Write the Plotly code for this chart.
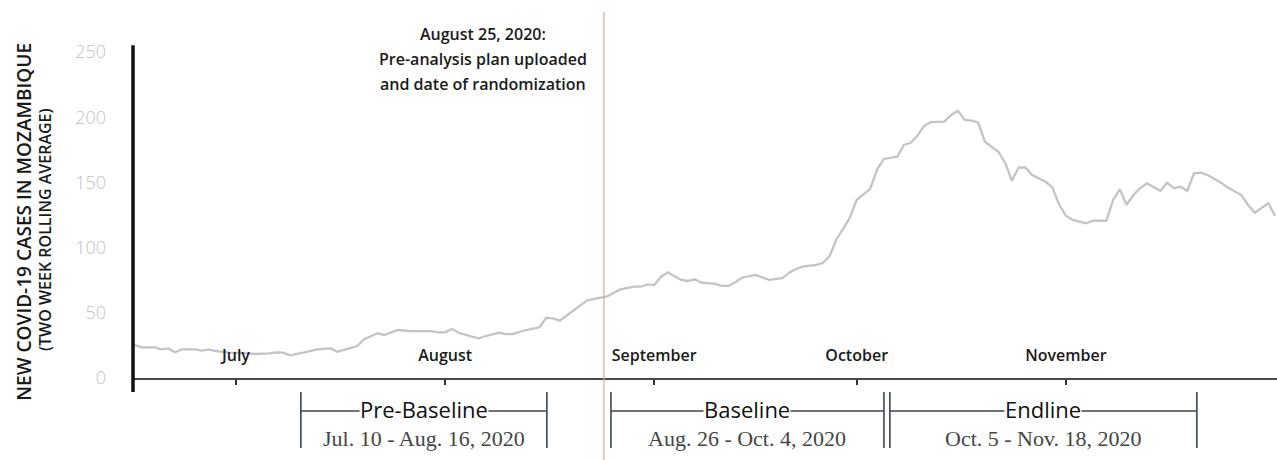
import plotly.graph_objects as go
import pandas as pd

# ---- data ----
dates = [
    "2020-06-16", "2020-06-17", "2020-06-19", "2020-06-20", "2020-06-21", "2020-06-22",
    "2020-06-23", "2020-06-25", "2020-06-26", "2020-06-27", "2020-06-28", "2020-06-30",
    "2020-07-02", "2020-07-04", "2020-07-06", "2020-07-07", "2020-07-08", "2020-07-09",
    "2020-07-11", "2020-07-12", "2020-07-13", "2020-07-15", "2020-07-16", "2020-07-17",
    "2020-07-19", "2020-07-20", "2020-07-22", "2020-07-23", "2020-07-25", "2020-07-27",
    "2020-07-30", "2020-07-31", "2020-08-01", "2020-08-02", "2020-08-03", "2020-08-05",
    "2020-08-06", "2020-08-07", "2020-08-09", "2020-08-10", "2020-08-11", "2020-08-13",
    "2020-08-15", "2020-08-16", "2020-08-17", "2020-08-18", "2020-08-20", "2020-08-21",
    "2020-08-22", "2020-08-23", "2020-08-25", "2020-08-26", "2020-08-27", "2020-08-29",
    "2020-08-30", "2020-08-31", "2020-09-01", "2020-09-02", "2020-09-03", "2020-09-05",
    "2020-09-06", "2020-09-07", "2020-09-08", "2020-09-10", "2020-09-11", "2020-09-12",
    "2020-09-13", "2020-09-14", "2020-09-16", "2020-09-17", "2020-09-18", "2020-09-20",
    "2020-09-21", "2020-09-22", "2020-09-23", "2020-09-25", "2020-09-26", "2020-09-27",
    "2020-09-28", "2020-09-29", "2020-09-30", "2020-10-01", "2020-10-02", "2020-10-03",
    "2020-10-04", "2020-10-05", "2020-10-07", "2020-10-08", "2020-10-09", "2020-10-10",
    "2020-10-11", "2020-10-12", "2020-10-14", "2020-10-15", "2020-10-16", "2020-10-17",
    "2020-10-18", "2020-10-19", "2020-10-20", "2020-10-22", "2020-10-23", "2020-10-24",
    "2020-10-25", "2020-10-26", "2020-10-27", "2020-10-28", "2020-10-29", "2020-10-30",
    "2020-10-31", "2020-11-01", "2020-11-02", "2020-11-03", "2020-11-04", "2020-11-05",
    "2020-11-07", "2020-11-08", "2020-11-09", "2020-11-10", "2020-11-11", "2020-11-12",
    "2020-11-13", "2020-11-15", "2020-11-16", "2020-11-17", "2020-11-18", "2020-11-19",
    "2020-11-20", "2020-11-21", "2020-11-22", "2020-11-24", "2020-11-25", "2020-11-27",
    "2020-11-28", "2020-11-29", "2020-12-01", "2020-12-02",
]
cases = [
    25.3, 23.5, 23.5, 22.0, 22.7, 19.7,
    22.0, 22.0, 21.0, 22.0, 20.7, 19.4,
    19.0, 18.4, 18.9, 19.7, 19.4, 17.4,
    19.4, 21.0, 22.0, 22.7, 20.2, 21.5,
    24.5, 29.7, 34.3, 33.0, 36.8, 36.0,
    36.0, 35.0, 35.0, 37.6, 34.7, 31.7,
    30.4, 32.2, 34.7, 33.7, 33.7, 36.8,
    38.9, 46.2, 45.7, 44.0, 51.4, 55.2,
    59.3, 60.4, 62.6, 65.4, 68.0, 70.0,
    70.0, 71.8, 71.3, 77.7, 81.0, 75.2,
    74.4, 75.7, 73.1, 72.1, 70.6, 70.6,
    73.4, 76.9, 79.0, 77.2, 75.2, 76.5,
    80.8, 83.6, 85.4, 86.7, 88.4, 93.6,
    106.4, 114.4, 123.0, 136.5, 141.0, 145.0,
    159.5, 168.0, 169.7, 178.7, 180.4, 185.8,
    193.3, 196.3, 196.6, 201.7, 205.0, 197.9,
    197.3, 196.0, 181.2, 173.5, 165.1, 151.3,
    161.3, 161.5, 155.7, 153.1, 150.5, 146.2,
    133.0, 124.5, 121.2, 119.9, 118.6, 120.6,
    120.6, 136.5, 144.7, 132.7, 140.3, 145.5,
    149.3, 143.6, 149.8, 145.5, 146.7, 143.6,
    157.0, 157.4, 155.7, 149.8, 146.0, 140.3,
    132.7, 126.8, 134.0, 124.5,
]
assert len(dates) == len(cases)

month_ticks = ["2020-07-01", "2020-08-01", "2020-09-01", "2020-10-01", "2020-11-01"]
month_labels = ["July", "August", "September", "October", "November"]
y_ticks = [0, 50, 100, 150, 200, 250]

period_names = ["Pre-Baseline", "Baseline", "Endline"]
period_ranges = ["Jul. 10 - Aug. 16, 2020", "Aug. 26 - Oct. 4, 2020", "Oct. 5 - Nov. 18, 2020"]
period_starts = ["2020-07-10 15:00", "2020-08-25 14:00", "2020-10-05 22:00"]
period_ends = ["2020-08-16 02:00", "2020-10-05 01:00", "2020-11-20 10:00"]

event_date = "2020-08-24 13:00"
event_lines = ["August 25, 2020:", "Pre-analysis plan uploaded", "and date of randomization"]

y_title_lines = ["NEW COVID-19 CASES IN MOZAMBIQUE", "(TWO WEEK ROLLING AVERAGE)"]

X_RANGE = ["2020-06-15 18:00", "2020-12-02 07:00"]

SANS = "Open Sans"
SERIF = "Liberation Serif"
BRACKET = "#3b4452"

fig = go.Figure()
fig.add_trace(go.Scatter(
    x=dates, y=cases, mode="lines",
    line=dict(color="#c4c4c4", width=2.3),
    hoverinfo="skip", showlegend=False,
))
# invisible carrier trace for the month-label axis
fig.add_trace(go.Scatter(
    x=[month_ticks[0]], y=[0], xaxis="x2", mode="markers",
    marker=dict(opacity=0), hoverinfo="skip", showlegend=False,
))

shapes = []
shapes.append(dict(type="line", xref="paper", yref="paper", x0=0, x1=0,
                   y0=-0.043, y1=1.021, line=dict(color="#111111", width=3.5)))
shapes.append(dict(type="line", xref="x", yref="paper", x0=event_date, x1=event_date,
                   y0=-0.26, y1=1.123, line=dict(color="#dba3ab", width=1.2)))

annotations = []
BR_TOP, BR_BOT, BR_MID = -0.043, -0.215, -0.101
for name, rng, s, e in zip(period_names, period_ranges, period_starts, period_ends):
    for xx in (s, e):
        shapes.append(dict(type="line", xref="x", yref="paper", x0=xx, x1=xx,
                           y0=BR_BOT, y1=BR_TOP, line=dict(color=BRACKET, width=1.6)))
    shapes.append(dict(type="line", xref="x", yref="paper", x0=s, x1=e,
                       y0=BR_MID, y1=BR_MID, line=dict(color=BRACKET, width=1.4)))
    ts, te = pd.Timestamp(s), pd.Timestamp(e)
    xm = (ts + (te - ts) / 2).strftime("%Y-%m-%d %H:%M")
    annotations.append(dict(
        xref="x", yref="paper", x=xm, y=-0.094, showarrow=False, text=name,
        bgcolor="white", borderpad=0,
        font=dict(family=SANS, size=22, color="#111111"),
        xanchor="center", yanchor="middle",
    ))
    annotations.append(dict(
        xref="x", yref="paper", x=xm, y=-0.186, showarrow=False, text=rng,
        font=dict(family=SERIF, size=22, color="#454545"),
        xanchor="center", yanchor="middle",
    ))

for txt, yy in zip(event_lines, [1.055, 0.979, 0.902]):
    annotations.append(dict(
        xref="paper", yref="paper", x=0.306, y=yy, showarrow=False,
        text=txt, xanchor="center", yanchor="middle",
        font=dict(family=SANS, size=16, color="#1a1a1a", weight=600),
    ))

annotations.append(dict(
    xref="paper", yref="paper", x=-0.0953, y=0.479, showarrow=False,
    text=y_title_lines[0], textangle=-90, xanchor="center", yanchor="middle",
    font=dict(family=SANS, size=19, color="#1a1a1a", weight=600),
))
annotations.append(dict(
    xref="paper", yref="paper", x=-0.0769, y=0.454, showarrow=False,
    text=y_title_lines[1], textangle=-90, xanchor="center", yanchor="middle",
    font=dict(family=SANS, size=16, color="#1a1a1a", weight=600),
))

fig.update_layout(
    width=1277, height=460,
    margin=dict(l=133, r=0, t=52, b=82),
    paper_bgcolor="white", plot_bgcolor="white",
    showlegend=False, hovermode=False,
    shapes=shapes, annotations=annotations,
    xaxis=dict(
        type="date", range=X_RANGE, automargin=False,
        tickvals=month_ticks, showticklabels=False,
        ticks="outside", ticklen=5, tickwidth=1.5, tickcolor="#333333",
        showline=True, linecolor="#4a4a4a", linewidth=2,
        showgrid=False, zeroline=False,
    ),
    xaxis2=dict(
        type="date", range=X_RANGE, automargin=False,
        overlaying="x", anchor="free", position=0.103, side="bottom",
        tickvals=month_ticks, ticktext=month_labels,
        ticks="", showline=False, showgrid=False, zeroline=False,
        tickfont=dict(family=SANS, size=16, color="#1a1a1a", weight=600),
    ),
    yaxis=dict(
        range=[0, 250], tickvals=y_ticks, automargin=False,
        ticks="", showline=False, showgrid=False, zeroline=False,
        ticklabelstandoff=26,
        tickfont=dict(family=SANS, size=18, color="#c2c2c2", weight=300),
    ),
)

fig.write_html(
    "out.html",
    config={"displayModeBar": False},
    post_script="document.body.style.margin='0';document.body.style.overflow='hidden';",
)
